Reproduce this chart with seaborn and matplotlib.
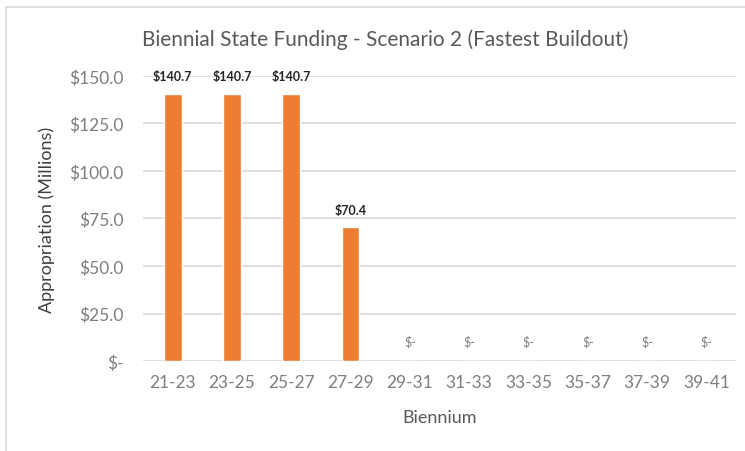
import matplotlib
matplotlib.use("Agg")
import matplotlib.pyplot as plt
import pandas as pd
import seaborn as sns
from matplotlib.patches import Rectangle

# Chart data
bienniums = ["21-23", "23-25", "25-27", "27-29", "29-31",
             "31-33", "33-35", "35-37", "37-39", "39-41"]
funding = [140.7, 140.7, 140.7, 70.4, 0, 0, 0, 0, 0, 0]
y_ticks = [0, 25, 50, 75, 100, 125, 150]


def money(v):
    return "$-" if v == 0 else f"${v:.1f}"


def main():
    sns.set_theme(style="white")
    plt.rcParams["font.family"] = ["Lato", "DejaVu Sans"]

    df = pd.DataFrame({"Biennium": bienniums, "Funding": funding})

    fig = plt.figure(figsize=(7.45, 4.52), dpi=100)
    ax = fig.add_axes([0.192, 0.199, 0.796, 0.631])

    # chart frame like the spreadsheet export
    fig.patches.append(Rectangle((6 / 745, -0.05), 1.1, 1 - 8 / 452 + 0.05,
                                 transform=fig.transFigure, fill=False,
                                 edgecolor="#D9D9D9", linewidth=1.2))

    sns.barplot(data=df, x="Biennium", y="Funding", color="#ED7D31",
                saturation=1, width=0.3, ax=ax)

    ax.set_ylim(0, 150)
    ax.set_yticks(y_ticks)
    ax.set_yticklabels([money(v) for v in y_ticks])
    ax.yaxis.grid(True, color="#D9D9D9", linewidth=1.2)
    ax.set_axisbelow(True)
    for s in ax.spines.values():
        s.set_visible(False)
    ax.tick_params(axis="both", length=0, colors="#7F7F7F", labelsize=12.5)
    ax.tick_params(axis="x", pad=9)
    ax.tick_params(axis="y", pad=14)

    for i, v in enumerate(funding):
        if v > 0:
            ax.text(i, v + 6, money(v), ha="center", va="bottom",
                    fontsize=9, fontweight="bold", color="#262626")
        else:
            ax.text(i, 7, money(v), ha="center", va="bottom",
                    fontsize=9, color="#7F7F7F")

    ax.set_xlabel("Biennium", fontsize=13, color="#595959", labelpad=14)
    ax.set_ylabel("Appropriation (Millions)", fontsize=13, color="#404040",
                  labelpad=10)
    fig.text(385 / 745, 1 - 40 / 452,
             "Biennial State Funding - Scenario 2 (Fastest Buildout)",
             ha="center", va="center", fontsize=15, color="#595959")

    fig.savefig("out.png", dpi=100)


if __name__ == "__main__":
    main()
